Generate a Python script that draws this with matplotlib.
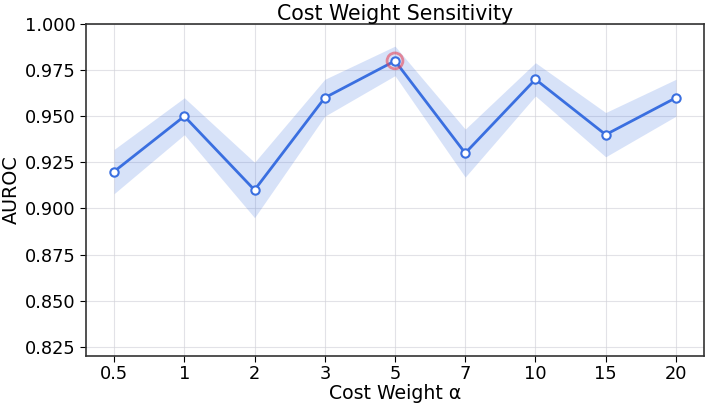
import matplotlib
matplotlib.use("Agg")
import matplotlib.pyplot as plt
import numpy as np

weights = ["0.5", "1", "2", "3", "5", "7", "10", "15", "20"]
auroc = [0.92, 0.95, 0.91, 0.96, 0.98, 0.93, 0.97, 0.94, 0.96]
auroc_std = [0.012, 0.010, 0.015, 0.010, 0.008, 0.013, 0.009, 0.012, 0.010]
best_index = 4

color = "#3a6fe0"
fig = plt.figure(figsize=(7.06, 4.04), dpi=100)
ax = fig.add_axes([86/706, 1-356/404, (704-86)/706, (356-24)/404])

x = np.arange(len(weights))
mean = np.array(auroc)
std = np.array(auroc_std)
ax.fill_between(x, mean - std, mean + std, color=color, alpha=0.2, linewidth=0)
ax.plot(x, mean, color=color, linewidth=2, marker="o", markersize=6,
        markerfacecolor="white", markeredgecolor=color, markeredgewidth=1.5, zorder=3)
ax.scatter([x[best_index]], [mean[best_index]], s=130, facecolor="none",
           edgecolor="#e8485a", linewidth=2, alpha=0.6, zorder=4)

ax.set_xticks(x)
ax.set_xticklabels(weights)
ax.set_xlim(-0.4, len(weights) - 0.6)
ax.set_ylim(0.82, 1.0)
ax.set_yticks([0.825, 0.85, 0.875, 0.9, 0.925, 0.95, 0.975, 1.0])
ax.yaxis.set_major_formatter(matplotlib.ticker.FormatStrFormatter("%.3f"))
ax.tick_params(labelsize=12.8, length=4)
ax.tick_params(axis="x", pad=2.5)
ax.grid(True, color="#d0d0d8", alpha=0.6, linewidth=0.8)
ax.set_axisbelow(True)
for s in ax.spines.values():
    s.set_color("#333333")
    s.set_linewidth(1.2)
ax.set_xlabel("Cost Weight α", fontsize=13.6, labelpad=0.5)
ax.set_ylabel("AUROC", fontsize=13.8, labelpad=3)
ax.set_title("Cost Weight Sensitivity", fontsize=14.8, pad=3)

fig.savefig("out.png", dpi=100)
